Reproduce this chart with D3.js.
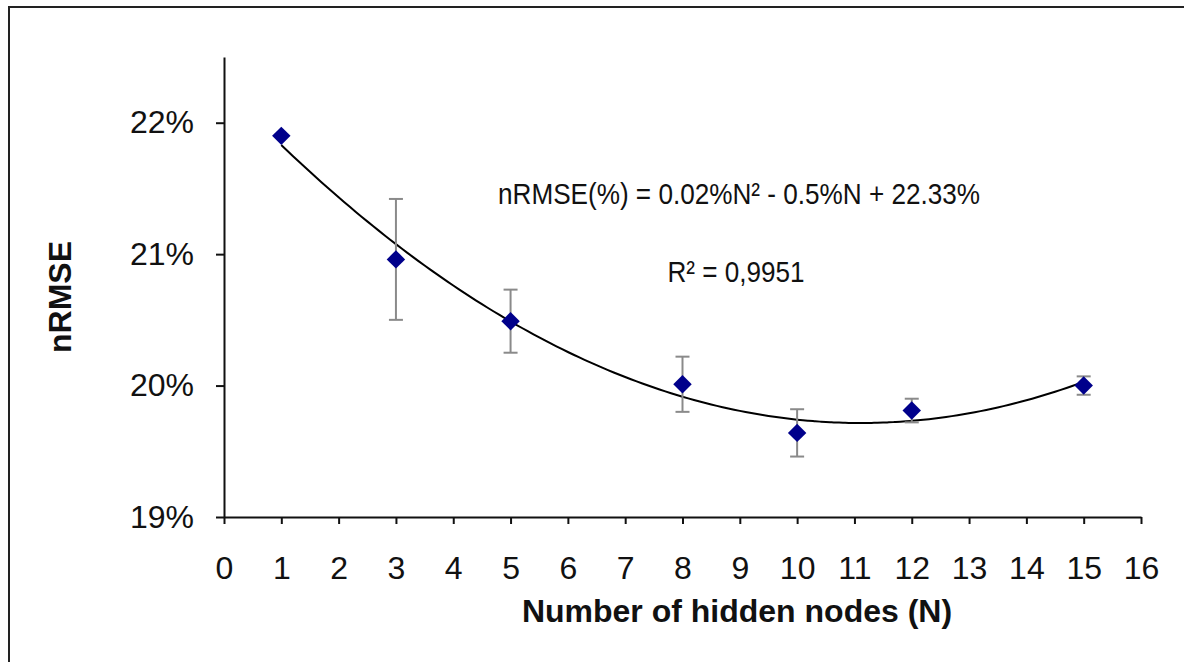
<!DOCTYPE html>
<html>
<head>
<meta charset="utf-8">
<script src="https://cdn.jsdelivr.net/npm/d3@7"></script>
<style>
  body { margin: 0; background: #fff; }
  svg { font-family: "Liberation Sans", Arial, sans-serif; }
</style>
</head>
<body>
<svg width="1184" height="662"></svg>
<script>
// values
var nodes = [1, 3, 5, 8, 10, 12, 15];
var nrmse = [21.90, 20.96, 20.49, 20.01, 19.64, 19.81, 20.00];
var errs = [0, 0.46, 0.24, 0.21, 0.18, 0.09, 0.07];
var xTicks = d3.range(0, 17);
var yTicks = [19, 20, 21, 22];
var equation = 'nRMSE(%) = 0.02%N² - 0.5%N + 22.33%';
var r2Label = 'R² = 0,9951';

var svg = d3.select('svg');

// frame (only left and top edges show)
svg.append('rect')
  .attr('x', 9).attr('y', 7)
  .attr('width', 1300).attr('height', 800)
  .attr('fill', 'none')
  .attr('stroke', '#222')
  .attr('stroke-width', 2);

var x = d3.scaleLinear().domain([0, 16]).range([224, 1141]);
var y = d3.scaleLinear().domain([19, 22.5]).range([517, 57]);

svg.append('g')
  .attr('transform', 'translate(224,0)')
  .call(d3.axisLeft(y).tickValues(yTicks).tickFormat(d => d + '%')
    .tickSize(8).tickSizeOuter(0).tickPadding(22));

svg.append('g')
  .attr('transform', 'translate(0,517)')
  .call(d3.axisBottom(x).tickValues(xTicks).tickFormat(d3.format('d'))
    .tickSize(7).tickSizeOuter(0).tickPadding(32));

svg.selectAll('.domain, .tick line')
  .attr('stroke', '#111')
  .attr('stroke-width', 2);
svg.selectAll('.tick text')
  .attr('font-size', 32)
  .attr('font-family', '"Liberation Sans", Arial, sans-serif')
  .attr('fill', '#111');

// quadratic trendline, least squares on the points
var data = nodes.map((n, i) => ({n: n, v: nrmse[i], e: errs[i]}));
function polyfit2(pts) {
  var s = [0, 0, 0, 0, 0], t = [0, 0, 0];
  pts.forEach(p => {
    for (var k = 0; k < 5; k++) s[k] += Math.pow(p.n, k);
    for (var k = 0; k < 3; k++) t[k] += p.v * Math.pow(p.n, k);
  });
  var A = [[s[0], s[1], s[2], t[0]], [s[1], s[2], s[3], t[1]], [s[2], s[3], s[4], t[2]]];
  for (var i = 0; i < 3; i++) {
    for (var j = i + 1; j < 3; j++) {
      var f = A[j][i] / A[i][i];
      for (var k = i; k < 4; k++) A[j][k] -= f * A[i][k];
    }
  }
  var c = [0, 0, 0];
  for (var i = 2; i >= 0; i--) {
    var sum = A[i][3];
    for (var k = i + 1; k < 3; k++) sum -= A[i][k] * c[k];
    c[i] = sum / A[i][i];
  }
  return c;
}
var coef = polyfit2(data);
var fitPts = d3.range(1, 15.01, 0.1).map(n => ({n: n, v: coef[0] + coef[1] * n + coef[2] * n * n}));

svg.append('path')
  .datum(fitPts)
  .attr('fill', 'none')
  .attr('stroke', '#000')
  .attr('stroke-width', 2)
  .attr('d', d3.line().x(d => x(d.n)).y(d => y(d.v)).curve(d3.curveBasis));

// error bars
var eb = svg.append('g').attr('stroke', '#8a8a8a').attr('stroke-width', 2);
data.filter(d => d.e > 0).forEach(d => {
  eb.append('line')
    .attr('x1', x(d.n)).attr('x2', x(d.n))
    .attr('y1', y(d.v + d.e)).attr('y2', y(d.v - d.e));
  [d.v + d.e, d.v - d.e].forEach(v => {
    eb.append('line')
      .attr('x1', x(d.n) - 7).attr('x2', x(d.n) + 7)
      .attr('y1', y(v)).attr('y2', y(v));
  });
});

// markers
svg.selectAll('.pt')
  .data(data)
  .enter()
  .append('path')
  .attr('class', 'pt')
  .attr('d', d3.symbol(d3.symbolSquare, 170))
  .attr('transform', d => 'translate(' + x(d.n) + ',' + y(d.v) + ') rotate(45)')
  .attr('fill', '#00008b');

// annotations
svg.append('text')
  .attr('x', 739).attr('y', 204)
  .attr('text-anchor', 'middle')
  .attr('font-size', 30)
  .attr('textLength', 482)
  .attr('lengthAdjust', 'spacingAndGlyphs')
  .attr('fill', '#111')
  .text(equation);

svg.append('text')
  .attr('x', 736).attr('y', 282)
  .attr('text-anchor', 'middle')
  .attr('font-size', 30)
  .attr('textLength', 137)
  .attr('lengthAdjust', 'spacingAndGlyphs')
  .attr('fill', '#111')
  .text(r2Label);

// axis titles
svg.append('text')
  .attr('x', 737).attr('y', 622)
  .attr('text-anchor', 'middle')
  .attr('font-size', 32)
  .attr('font-weight', 'bold')
  .attr('fill', '#111')
  .text('Number of hidden nodes (N)');

svg.append('text')
  .attr('transform', 'translate(71,297) rotate(-90)')
  .attr('text-anchor', 'middle')
  .attr('font-size', 32)
  .attr('font-weight', 'bold')
  .attr('fill', '#111')
  .text('nRMSE');
</script>
</body>
</html>
